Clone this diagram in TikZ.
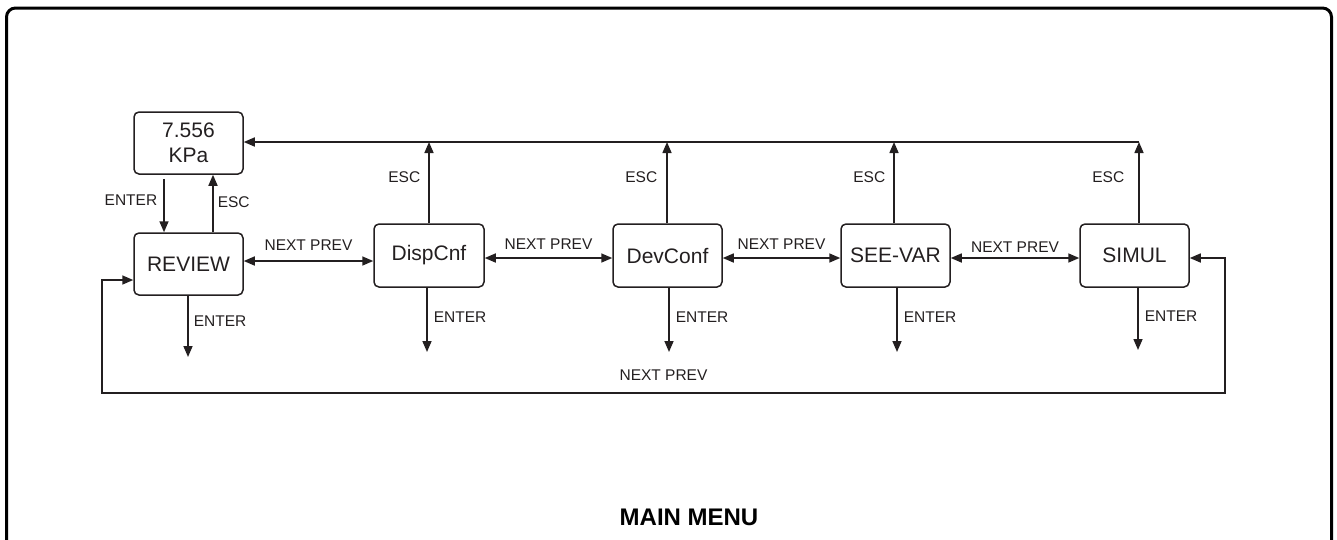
\documentclass[tikz,border=0pt]{standalone}
\usepackage{fontspec}
\setmainfont{Liberation Sans}
\usetikzlibrary{arrows.meta}
\definecolor{ink}{HTML}{231F20}
\begin{document}
\begin{tikzpicture}[x=1pt,y=-1pt,
  box/.style={draw=ink, line width=1.5pt, rounded corners=5pt, minimum width=109pt, minimum height=62pt, inner sep=0pt, font=\fontsize{21}{25}\selectfont, text=ink, align=center},
  conn/.style={draw=ink, line width=1.6pt},
  arr/.style={conn, -{Triangle[length=11pt,width=9pt]}},
  biarr/.style={conn, {Triangle[length=11pt,width=9pt]}-{Triangle[length=11pt,width=9pt]}},
  lbl/.style={font=\fontsize{15.5}{18}\selectfont, text=ink, inner sep=0pt},
  ttl/.style={font=\fontsize{24}{28}\selectfont\bfseries, text=black, inner sep=0pt}]
\useasboundingbox (0,0) rectangle (1337,539);
\clip (0,0) rectangle (1337,539);
\draw[line width=3pt, rounded corners=9pt] (6.5,600) -- (6.5,8) -- (1331.5,8) -- (1331.5,600);

% boxes
\node[box] (kpa) at (188.5,143) {7.556\\KPa};
\node[box] (review) at (188.5,264) {REVIEW};
\node[box, minimum height=63pt, minimum width=110pt] (disp) at (429,255.5) {DispCnf};
\node[box, minimum height=63pt] (dev) at (667.5,255.5) {DevConf};
\node[box, minimum height=63pt] (seevar) at (895.5,255.5) {SEE-VAR};
\node[box, minimum height=63pt] (simul) at (1134.5,255.5) {SIMUL};

% KPa <-> REVIEW
\draw[arr, shorten <=4pt] ([xshift=-24.5pt]kpa.south) -- node[lbl, left=6pt, pos=0.44]{ENTER} ([xshift=-24.5pt]review.north);
\draw[arr] ([xshift=24.5pt]review.north) -- node[lbl, right=4pt, pos=0.53]{ESC} ([xshift=24.5pt]kpa.south);

% top ESC return line
\coordinate (topR) at (1139,142);
\draw[arr] ([xshift=4.5pt]simul.north) -- node[lbl, left=14pt, pos=0.573]{ESC} (topR);
\draw[arr] (topR) -- (topR -| kpa.east);
\draw[arr] (disp.north) -- node[lbl, left=8pt, pos=0.573]{ESC} (disp.north |- topR);
\draw[arr] ([xshift=-0.5pt]dev.north) -- node[lbl, left=9pt, pos=0.573]{ESC} ([xshift=-0.5pt]dev.north |- topR);
\draw[arr] ([xshift=-1.5pt]seevar.north) -- node[lbl, left=8pt, pos=0.573]{ESC} ([xshift=-1.5pt]seevar.north |- topR);

% NEXT PREV between boxes
\coordinate (r1) at ([yshift=3pt]review.east);
\draw[biarr] (r1) -- node[lbl, above=9.3pt]{NEXT PREV} (r1 -| disp.west);
\coordinate (d1) at ([yshift=-2.5pt]disp.east);
\draw[biarr] (d1) -- node[lbl, above=8pt]{NEXT PREV} (d1 -| dev.west);
\coordinate (v1) at ([yshift=-2.5pt]dev.east);
\draw[biarr] (v1) -- node[lbl, above=8pt]{NEXT PREV} (v1 -| seevar.west);
\coordinate (s1) at ([yshift=-2.5pt]seevar.east);
\draw[biarr] (s1) -- node[lbl, above=5pt]{NEXT PREV} (s1 -| simul.west);

% ENTER downward
\coordinate (rE) at (188,357);
\draw[arr] (review.south -| rE) -- node[lbl, right=5pt, pos=0.42]{ENTER} (rE);
\coordinate (dE) at (427,352);
\draw[arr] (disp.south -| dE) -- node[lbl, right=6pt, pos=0.46]{ENTER} (dE);
\coordinate (vE) at (669,352);
\draw[arr] (dev.south -| vE) -- node[lbl, right=6pt, pos=0.46]{ENTER} (vE);
\coordinate (sE) at (897,352);
\draw[arr] (seevar.south -| sE) -- node[lbl, right=6pt, pos=0.46]{ENTER} (sE);
\coordinate (mE) at (1138,350);
\draw[arr] (simul.south -| mE) -- node[lbl, right=6pt, pos=0.46]{ENTER} (mE);

% bottom loop
\coordinate (lb) at (102,393);
\coordinate (rb) at (1225,393);
\draw[biarr] ([yshift=-16pt]review.west) -| (lb) -- node[lbl, above=12pt]{NEXT PREV} (rb) |- ([yshift=-2.5pt]simul.east);

% title
\node[ttl] (title) at (689,517) {MAIN MENU};
\end{tikzpicture}
\end{document}
